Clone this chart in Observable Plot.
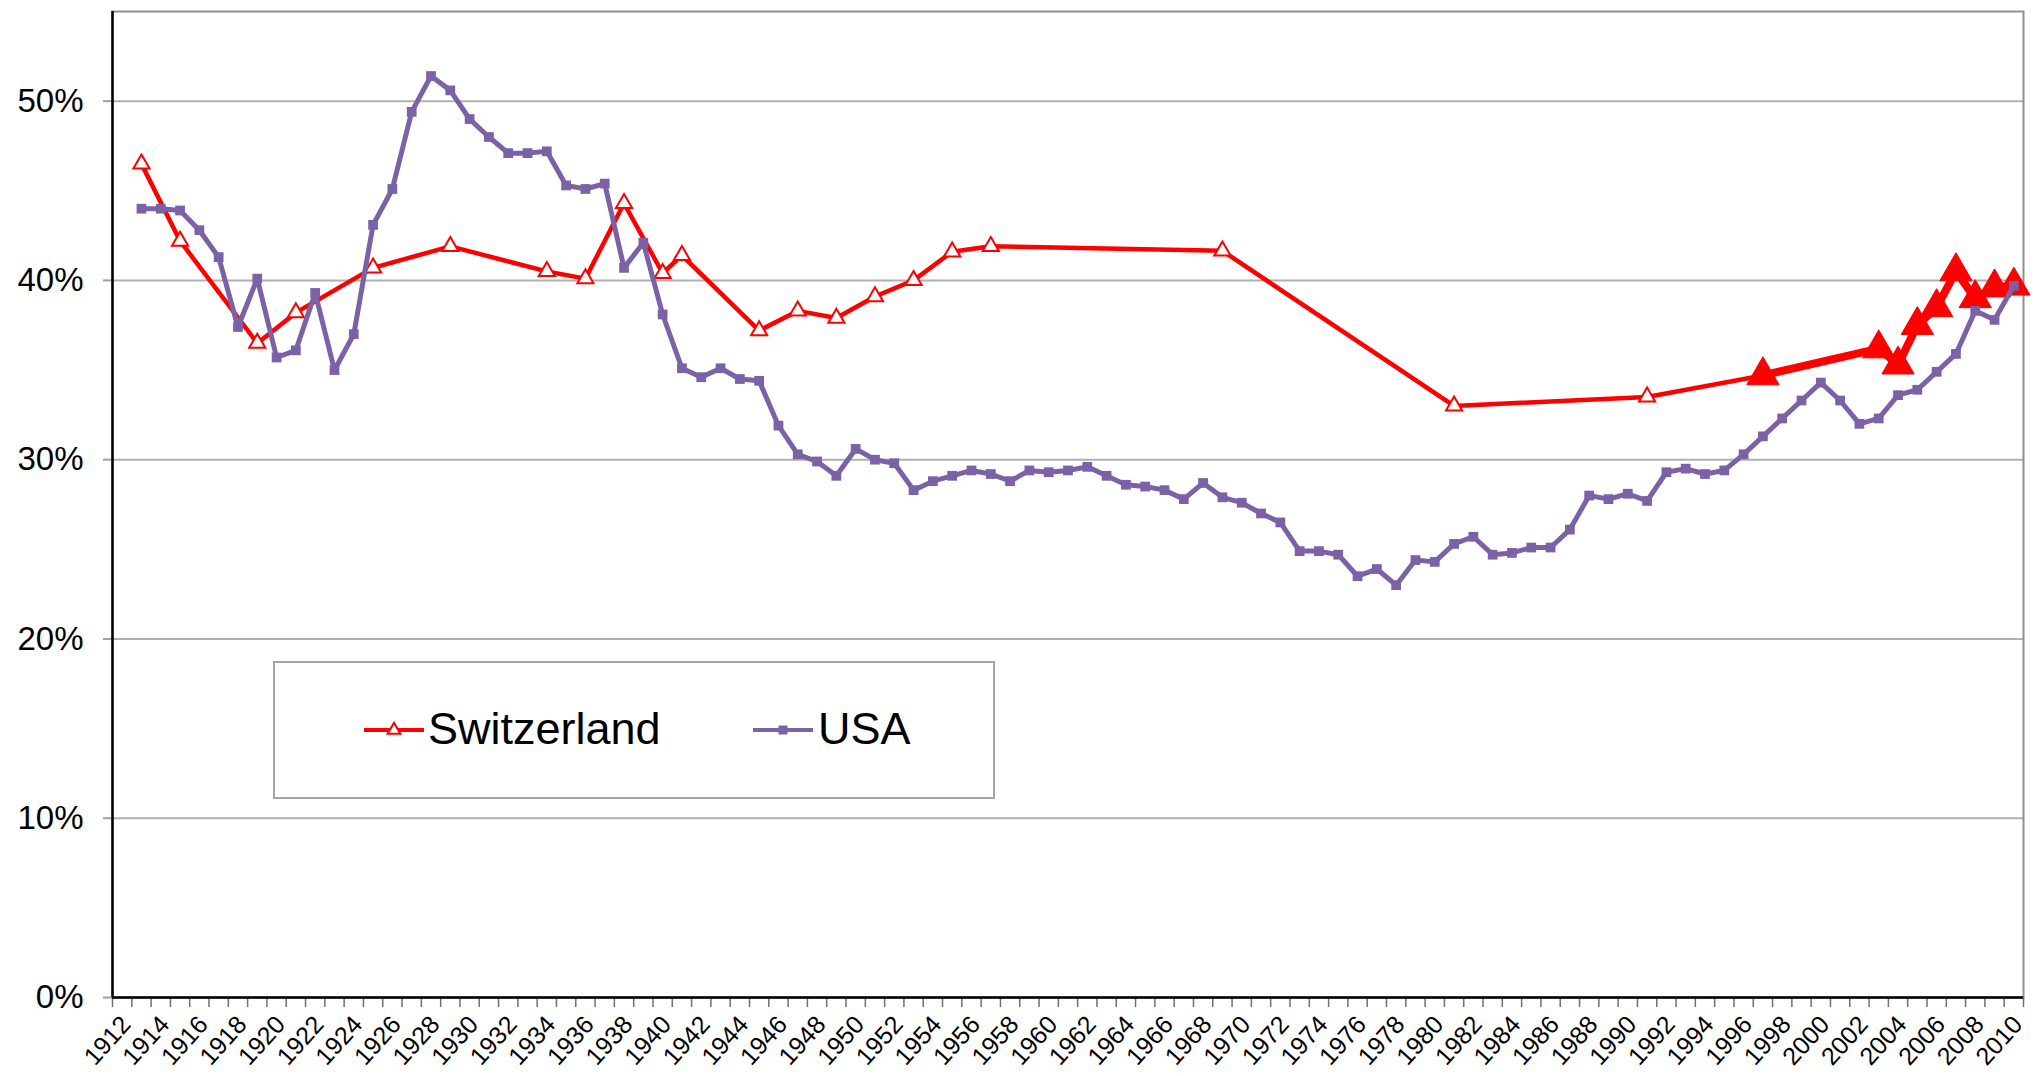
<!DOCTYPE html>
<html><head><meta charset="utf-8">
<script src="https://cdn.jsdelivr.net/npm/d3@7"></script>
<script src="https://cdn.jsdelivr.net/npm/@observablehq/plot@0.6"></script>
<style>
html,body{margin:0;padding:0;background:#fff;}
#wrap{position:relative;width:2036px;height:1076px;font-family:"Liberation Sans",Arial,sans-serif;}
#legend{position:absolute;left:273px;top:661px;width:722px;height:138px;border:2px solid #a6a6a6;background:#fff;box-sizing:border-box;}
.lg-sym{position:absolute;}
.lg-txt{position:absolute;font-size:45px;line-height:50px;color:#000;white-space:nowrap;}
</style></head>
<body><div id="wrap"></div>
<script>
// ---- data ----
const usaYears = d3.range(1913, 2011);
const usaValues = [
  44.0, 44.0, 43.9, 42.8, 41.3, 37.4, 40.1, 35.7, 36.1, 39.3,
  35.0, 37.0, 43.1, 45.1, 49.4, 51.4, 50.6, 49.0, 48.0, 47.1,
  47.1, 47.2, 45.3, 45.1, 45.4, 40.7, 42.1, 38.1, 35.1, 34.6,
  35.1, 34.5, 34.4, 31.9, 30.3, 29.9, 29.1, 30.6, 30.0, 29.8,
  28.3, 28.8, 29.1, 29.4, 29.2, 28.8, 29.4, 29.3, 29.4, 29.6,
  29.1, 28.6, 28.5, 28.3, 27.8, 28.7, 27.9, 27.6, 27.0, 26.5,
  24.9, 24.9, 24.7, 23.5, 23.9, 23.0, 24.4, 24.3, 25.3, 25.7,
  24.7, 24.8, 25.1, 25.1, 26.1, 28.0, 27.8, 28.1, 27.7, 29.3,
  29.5, 29.2, 29.4, 30.3, 31.3, 32.3, 33.3, 34.3, 33.3, 32.0,
  32.3, 33.6, 33.9, 34.9, 35.9, 38.3, 37.8, 39.7
];
const chYearsEarly = [1913, 1915, 1919, 1921, 1925, 1929, 1934, 1936, 1938, 1940, 1941,
  1945, 1947, 1949, 1951, 1953, 1955, 1957, 1969, 1981, 1991];
const chValuesEarly = [46.5, 42.2, 36.5, 38.2, 40.7, 41.9, 40.5, 40.1, 44.3, 40.4, 41.4,
  37.2, 38.3, 37.9, 39.1, 40.0, 41.6, 41.9, 41.65, 33.0, 33.5];
const chYearsLate = [1997, 2003, 2004, 2005, 2006, 2007, 2008, 2009, 2010];
const chValuesLate = [34.7, 36.2, 35.3, 37.5, 38.5, 40.5, 39.0, 39.6, 39.7];
const yTicks = [0, 10, 20, 30, 40, 50];
const xLabelYears = d3.range(1912, 2011, 2);
const seriesNames = ["Switzerland", "USA"];

// ---- tables ----
const usa = usaYears.map((y, i) => ({year: y, v: usaValues[i]}));
const chEarly = chYearsEarly.map((y, i) => ({year: y, v: chValuesEarly[i]}));
const chLate = chYearsLate.map((y, i) => ({year: y, v: chValuesLate[i]}));
const chBridge = [chEarly[chEarly.length - 1], chLate[0]];
const boundaries = d3.range(1911.5, 2011, 1);

const RED = "#ff0000", PURPLE = "#7b62a6";

const chart = Plot.plot({
  width: 2036,
  height: 1076,
  marginLeft: 112,
  marginRight: 13,
  marginTop: 11,
  marginBottom: 79,
  style: {fontFamily: '"Liberation Sans", Arial, sans-serif', background: "#fff", color: "#000"},
  x: {domain: [1911.5, 2010.5], axis: null},
  y: {domain: [0, 55]},
  marks: [
    Plot.gridY(yTicks.filter(d => d > 0), {stroke: "#b0b0b0", strokeOpacity: 1, strokeWidth: 2}),
    Plot.frame({stroke: "#8f8f8f", strokeWidth: 2}),
    Plot.axisY(yTicks, {tickFormat: d => d + "%", fontSize: 33, tickSize: 9, tickPadding: 20, stroke: "#a0a0a0", strokeWidth: 2, label: null}),
    Plot.axisX(boundaries, {tickFormat: () => "", tickSize: 10, stroke: "#707070", strokeWidth: 1.5, label: null}),
    Plot.text(xLabelYears, {x: d => d, text: d => String(d), frameAnchor: "bottom", rotate: -48, textAnchor: "end", fontSize: 25, dx: 10, dy: 28, fill: "#000"}),
    Plot.ruleX([1911.5], {stroke: "#000", strokeWidth: 2.5}),
    Plot.ruleY([0], {stroke: "#000", strokeWidth: 2.5}),
    // Switzerland
    Plot.line(chEarly, {x: "year", y: "v", stroke: RED, strokeWidth: 4.5}),
    Plot.line(chBridge, {x: "year", y: "v", stroke: RED, strokeWidth: 4.5}),
    Plot.line(chLate, {x: "year", y: "v", stroke: RED, strokeWidth: 8}),
    Plot.dot(chEarly, {x: "year", y: "v", symbol: "triangle", r: 6, fill: "#fff", stroke: RED, strokeWidth: 2}),
    Plot.dot(chLate, {x: "year", y: "v", symbol: "triangle", r: 12, fill: RED, stroke: RED, strokeWidth: 1}),
    // USA
    Plot.line(usa, {x: "year", y: "v", stroke: PURPLE, strokeWidth: 5}),
    Plot.dot(usa, {x: "year", y: "v", symbol: "square", r: 5.5, fill: PURPLE, stroke: "none"})
  ]
});

const wrap = document.getElementById("wrap");
wrap.appendChild(chart);

// ---- legend (overlay) ----
const legend = document.createElement("div");
legend.id = "legend";
const items = [
  {name: seriesNames[0], color: RED, sym: "tri", symLeft: 89, txtLeft: 153},
  {name: seriesNames[1], color: PURPLE, sym: "sq", symLeft: 478, txtLeft: 543}
];
for (const it of items) {
  const svg = d3.create("svg").attr("class", "lg-sym").attr("width", 60).attr("height", 24)
    .style("left", it.symLeft + "px").style("top", "55px");
  svg.append("line").attr("x1", 0).attr("x2", 60).attr("y1", 12).attr("y2", 12)
    .attr("stroke", it.color).attr("stroke-width", 4);
  if (it.sym === "tri") {
    svg.append("path").attr("d", d3.symbol(d3.symbolTriangle, 70)()).attr("transform", "translate(30,12)")
      .attr("fill", "#fff").attr("stroke", it.color).attr("stroke-width", 2);
  } else {
    svg.append("path").attr("d", d3.symbol(d3.symbolSquare, 81)()).attr("transform", "translate(30,12)")
      .attr("fill", it.color);
  }
  legend.appendChild(svg.node());
  const t = document.createElement("div");
  t.className = "lg-txt";
  t.style.left = it.txtLeft + "px";
  t.style.top = "41px";
  t.textContent = it.name;
  legend.appendChild(t);
}
wrap.appendChild(legend);
</script>
</body></html>
